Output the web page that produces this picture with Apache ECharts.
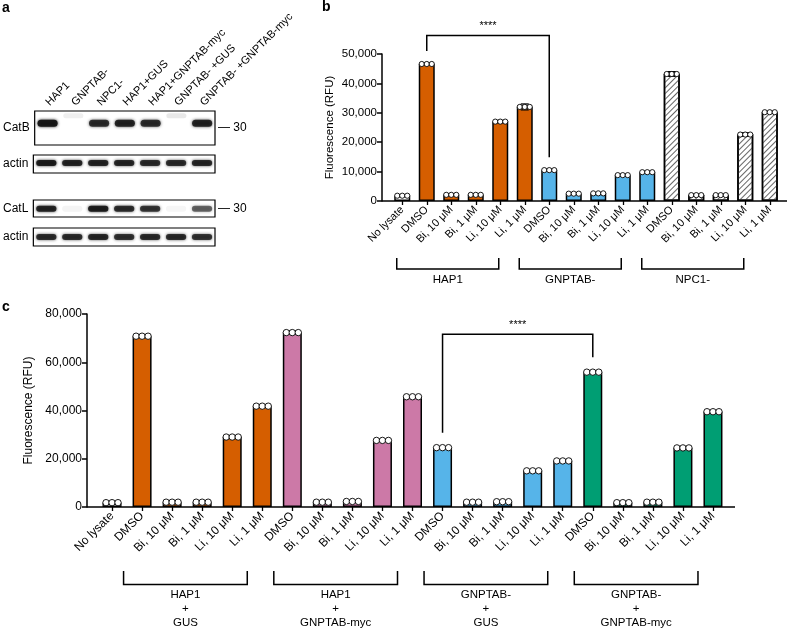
<!DOCTYPE html>
<html><head><meta charset="utf-8">
<script src="https://cdn.jsdelivr.net/npm/echarts@6/dist/echarts.min.js"></script>
<style>html,body{margin:0;padding:0;background:#fff}#c{width:787px;height:630px}</style>
</head><body><div id="c"></div>
<script>
// ---------- Panel a : western blot ----------
const lanes = ['HAP1','GNPTAB-','NPC1-','HAP1+GUS','HAP1+GNPTAB-myc','GNPTAB- +GUS','GNPTAB- +GNPTAB-myc'];
const catB      = [1.00, 0.00, 0.85, 0.90, 0.85, 0.00, 0.90];
const catBUpper = [0.00, 0.07, 0.00, 0.00, 0.00, 0.10, 0.00];
const actin1    = [0.95, 0.90, 0.90, 0.88, 0.85, 0.85, 0.88];
const catL      = [0.90, 0.05, 0.95, 0.85, 0.80, 0.04, 0.60];
const actin2    = [0.85, 0.85, 0.88, 0.82, 0.85, 0.85, 0.82];
const rowLabels = ['CatB','actin','CatL','actin'];
const mwLabel = '— 30';

// ---------- Panel b ----------
const catsB = ['No lysate','DMSO','Bi, 10 μM','Bi, 1 μM','Li, 10 μM','Li, 1 μM','DMSO','Bi, 10 μM','Bi, 1 μM','Li, 10 μM','Li, 1 μM','DMSO','Bi, 10 μM','Bi, 1 μM','Li, 10 μM','Li, 1 μM'];
const valsB = [1800,46600,2100,2100,27000,32000,10500,2500,2600,8800,9800,43200,2000,2000,22600,30200];
const errB  = [300,300,250,250,400,1000,300,250,250,300,300,800,300,250,600,300];
const groupB = [0,1,1,1,1,1,2,2,2,2,2,3,3,3,3,3];
const groupNamesB = ['HAP1','GNPTAB-','NPC1-'];
const sigB = [1,6];
const yTicksB = {min:0, max:50000, interval:10000};

// ---------- Panel c ----------
const catsC = ['No lysate','DMSO','Bi, 10 μM','Bi, 1 μM','Li, 10 μM','Li, 1 μM','DMSO','Bi, 10 μM','Bi, 1 μM','Li, 10 μM','Li, 1 μM','DMSO','Bi, 10 μM','Bi, 1 μM','Li, 10 μM','Li, 1 μM','DMSO','Bi, 10 μM','Bi, 1 μM','Li, 10 μM','Li, 1 μM'];
const valsC = [1800,70800,2000,2000,29000,41800,72300,2000,2300,27600,45700,24600,2000,2200,15000,19100,55900,1800,2000,24500,39500];
const errC  = [400,500,300,300,400,400,700,300,300,400,400,400,300,300,500,400,400,300,300,400,400];
const groupC = [0,1,1,1,1,1,2,2,2,2,2,3,3,3,3,3,4,4,4,4,4];
const groupNamesC = ['HAP1\n+\nGUS','HAP1\n+\nGNPTAB-myc','GNPTAB-\n+\nGUS','GNPTAB-\n+\nGNPTAB-myc'];
const sigC = [11,16];
const yTicksC = {min:0, max:80000, interval:20000};

const FONT = '"Liberation Sans", Arial, Helvetica, sans-serif';
const colorsB = ['#ffffff','#D55E00','#56B4E9','hatch'];
const colorsC = ['#ffffff','#D55E00','#CC79A7','#56B4E9','#009E73'];

const chart = echarts.init(document.getElementById('c'));

// blot strips geometry
const strips = [
  {top:111, height:34, frac:0.36, h:7},
  {top:155, height:18, frac:0.45, h:6},
  {top:200, height:17, frac:0.52, h:6},
  {top:228, height:18, frac:0.5,  h:6}
];
const grids = strips.map(s => ({left:32, top:s.top, width:183, height:s.height, show:true, borderColor:'#000', borderWidth:1.2, backgroundColor:'#fff'}));
grids.push({left:390, top:54, width:392, height:147});
grids.push({left:97, top:314, width:631, height:193});

const xAxes = strips.map((s,k) => ({
  type:'category', gridIndex:k, data:lanes, position:'top',
  axisLine:{show:false}, axisTick:{show:false},
  axisLabel:{show:k===0, rotate:-45, align:'left', verticalAlign:'middle', interval:0, margin:7, fontSize:11, color:'#000', fontFamily:FONT}
}));
function catAxis(grid, data, fs) {
  return {type:'category', gridIndex:grid, data:data,
    axisLine:{show:false}, axisTick:{show:true, alignWithLabel:true, length:4, lineStyle:{color:'#000', width:1.3}},
    axisLabel:{interval:0, rotate:45, margin:7, fontSize:fs, color:'#000', fontFamily:FONT}};
}
xAxes.push(catAxis(4, catsB, 11));
xAxes.push(catAxis(5, catsC, 12));

const yAxes = [];
const stripY = [];
strips.forEach((s,k) => {
  stripY.push(yAxes.length);
  yAxes.push({type:'category', gridIndex:k, data:[rowLabels[k]], axisLine:{show:false}, axisTick:{show:false},
    axisLabel:{margin:5, fontSize:12, color:'#000', fontFamily:FONT}});
  if (k===0 || k===2) {
    yAxes.push({type:'category', gridIndex:k, position:'right', data:[mwLabel], axisLine:{show:false}, axisTick:{show:false},
      axisLabel:{margin:3, fontSize:12, color:'#000', fontFamily:FONT}});
  }
});
function valAxis(grid, t, fs, offset, gap) {
  return {type:'value', gridIndex:grid, min:t.min, max:t.max, interval:t.interval, offset:offset,
    name:'Fluorescence (RFU)', nameLocation:'middle', nameGap:gap,
    nameTextStyle:{fontSize:fs, color:'#000', fontFamily:FONT},
    axisLine:{show:true, lineStyle:{color:'#000', width:1.5}},
    axisTick:{show:true, length:5, lineStyle:{color:'#000', width:1.5}},
    splitLine:{show:false},
    axisLabel:{fontSize:fs, color:'#000', fontFamily:FONT, margin:5, formatter:v=>v.toLocaleString('en-US')}};
}
const yB = yAxes.length; yAxes.push(valAxis(4, yTicksB, 11.5, 8, 46));
const yC = yAxes.length; yAxes.push(valAxis(5, yTicksC, 12, 10, 50));

const series = [];
// blot bands
function bandSeries(k, vals, frac, h, yIdx) {
  return {type:'custom', xAxisIndex:k, yAxisIndex:yIdx, silent:true,
    data: vals.map((v,i)=>[i,0,v]),
    renderItem:(params, api) => {
      const cs = params.coordSys;
      const x = api.coord([api.value(0), 0])[0];
      const w = api.size([1,0])[0]*0.78;
      const v = api.value(2);
      if (v <= 0) return null;
      const y = cs.y + cs.height*frac;
      return {type:'rect', shape:{x:x-w/2, y:y-h/2, width:w, height:h, r:h/2},
        style:{fill:'rgba(20,20,20,'+(v*0.95)+')', shadowBlur:3, shadowColor:'rgba(20,20,20,'+v+')'}};
    }};
}
const stripVals = [catB, actin1, catL, actin2];
strips.forEach((s,k) => series.push(bandSeries(k, stripVals[k], s.frac, s.h, stripY[k])));
series.push(bandSeries(0, catBUpper, 0.14, 5, stripY[0]));

// bars
function barSeries(xIdx, yIdx, vals, groups, colors, bw) {
  return colors.map((c,g) => {
    const st = {borderColor:'#000', borderWidth:1.5};
    if (c === 'hatch') {
      st.color = '#fff';
      st.decal = {symbol:'rect', symbolSize:1, dashArrayX:[1,0], dashArrayY:[1,2.4], rotation:-Math.PI/4, color:'#666'};
    } else st.color = c;
    return {type:'bar', xAxisIndex:xIdx, yAxisIndex:yIdx, barWidth:bw, barGap:'-100%', silent:true,
      itemStyle:st, data: vals.map((v,i)=> groups[i]===g ? v : '-')};
  });
}
series.push(...barSeries(4, yB, valsB, groupB, colorsB, 16));
series.push(...barSeries(5, yC, valsC, groupC, colorsC, 19));

// error bars + replicate dots
function errSeries(xIdx, yIdx, vals, errs, r, off, cap) {
  return {type:'custom', xAxisIndex:xIdx, yAxisIndex:yIdx, silent:true, clip:false, z:5,
    data: vals.map((v,i)=>[i,v,errs[i]]),
    renderItem:(params, api) => {
      const i = api.value(0), v = api.value(1), e = api.value(2);
      const p = api.coord([i,v]), hi = api.coord([i,v+e]), lo = api.coord([i,v-e]);
      const ln = {stroke:'#000', lineWidth:1.3};
      const ch = [
        {type:'line', shape:{x1:p[0],y1:lo[1],x2:p[0],y2:hi[1]}, style:ln},
        {type:'line', shape:{x1:p[0]-cap/2,y1:hi[1],x2:p[0]+cap/2,y2:hi[1]}, style:ln},
        {type:'line', shape:{x1:p[0]-cap/2,y1:lo[1],x2:p[0]+cap/2,y2:lo[1]}, style:ln},
        {type:'line', shape:{x1:p[0]-cap/2-2,y1:p[1],x2:p[0]+cap/2+2,y2:p[1]}, style:{stroke:'#000', lineWidth:2}}
      ];
      [-off,0,off].forEach(dx => ch.push({type:'circle', shape:{cx:p[0]+dx, cy:p[1], r:r}, style:{fill:'#fff', stroke:'#000', lineWidth:0.9}}));
      return {type:'group', children:ch};
    }};
}
series.push(errSeries(4, yB, valsB, errB, 2.6, 5, 8));
series.push(errSeries(5, yC, valsC, errC, 3.2, 6, 10));

// significance brackets
function sigSeries(xIdx, yIdx, vals, pair, gap, rise, starGap, fs) {
  return {type:'custom', xAxisIndex:xIdx, yAxisIndex:yIdx, silent:true, clip:false, z:6,
    data:[[pair[0], pair[1]]],
    renderItem:(params, api) => {
      const a = api.value(0), b = api.value(1);
      const pa = api.coord([a, vals[a]]), pb = api.coord([b, vals[b]]);
      const top = Math.min(pa[1], pb[1]) - rise;
      return {type:'group', children:[
        {type:'polyline', shape:{points:[[pa[0], pa[1]-gap],[pa[0], top],[pb[0], top],[pb[0], pb[1]-gap]]}, style:{stroke:'#000', lineWidth:1.5, fill:null}},
        {type:'text', style:{text:'****', x:(pa[0]+pb[0])/2, y:top-starGap, align:'center', verticalAlign:'middle', textAlign:'center', textVerticalAlign:'middle', font:fs+'px '+FONT, fill:'#000'}}
      ]};
    }};
}
series.push(sigSeries(4, yB, valsB, sigB, 13, 28.6, 9.5, 11));
series.push(sigSeries(5, yC, valsC, sigC, 15, 38, 9, 11));

// baseline + group brackets
function decorSeries(xIdx, yIdx, groups, names, extL, extR, bTop, bBot, offL, offR, labY, fs, lh) {
  return {type:'custom', xAxisIndex:xIdx, yAxisIndex:yIdx, silent:true, clip:false, z:6,
    data:[[0,0]],
    renderItem:(params, api) => {
      const cs = params.coordSys;
      const base = cs.y + cs.height;
      const ch = [{type:'line', shape:{x1:cs.x-extL, y1:base, x2:cs.x+cs.width+extR, y2:base}, style:{stroke:'#000', lineWidth:1.5}}];
      names.forEach((nm, g) => {
        const f = groups.indexOf(g+1), l = groups.lastIndexOf(g+1);
        const xl = api.coord([f,0])[0] + offL, xr = api.coord([l,0])[0] + offR;
        ch.push({type:'polyline', shape:{points:[[xl, base+bTop],[xl, base+bBot],[xr, base+bBot],[xr, base+bTop]]}, style:{stroke:'#000', lineWidth:1.5, fill:null}});
        ch.push({type:'text', style:{text:nm, x:(xl+xr)/2, y:base+labY, align:'center', verticalAlign:'top', textAlign:'center', textVerticalAlign:'top', font:fs+'px '+FONT, lineHeight:lh, fill:'#000'}});
      });
      return {type:'group', children:ch};
    }};
}
series.push(decorSeries(4, yB, groupB, groupNamesB, 8, 5, 57, 68, -30, -26, 72, 11.5, 14));
series.push(decorSeries(5, yC, groupC, groupNamesC, 10, 7, 64, 77.5, -18.5, -15, 81, 11.5, 14));

chart.setOption({
  animation:false,
  backgroundColor:'#fff',
  grid:grids, xAxis:xAxes, yAxis:yAxes, series:series,
  graphic:[
    {type:'text', left:2, top:1, style:{text:'a', font:'bold 14px '+FONT, fill:'#000'}},
    {type:'text', left:322, top:0, style:{text:'b', font:'bold 14px '+FONT, fill:'#000'}},
    {type:'text', left:2, top:300, style:{text:'c', font:'bold 14px '+FONT, fill:'#000'}}
  ]
});
</script></body></html>
